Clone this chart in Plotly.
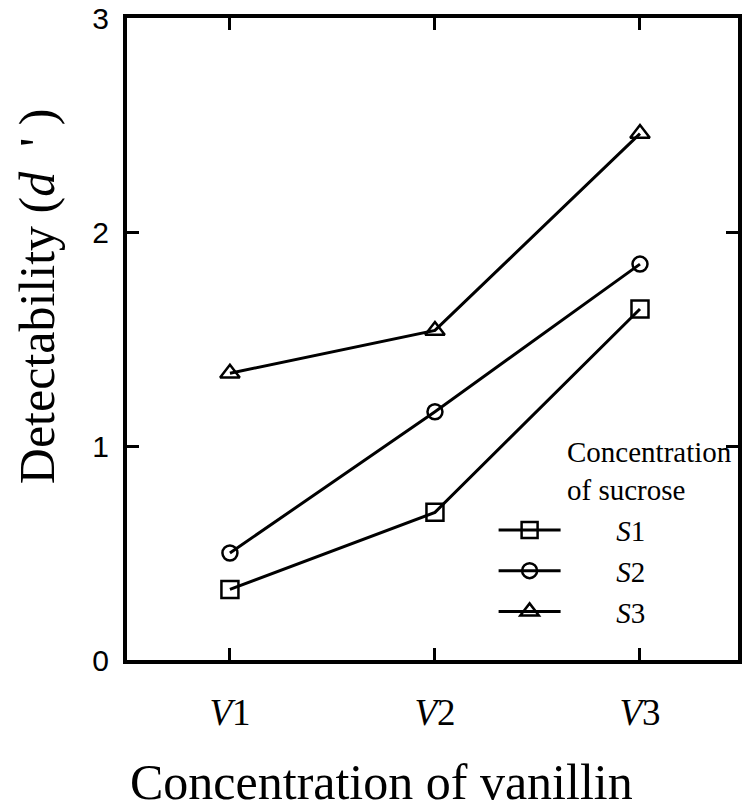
import plotly.graph_objects as go

categories = ["V1", "V2", "V3"]
x_pos = [1, 2, 3]
tick_labels = ["<i>V</i>1", "<i>V</i>2", "<i>V</i>3"]
pad = "&nbsp;" * 7
series_names = [pad + "<i>S</i>1", pad + "<i>S</i>2", pad + "<i>S</i>3"]
s1 = [0.33, 0.69, 1.64]
s2 = [0.50, 1.16, 1.85]
s3 = [1.34, 1.54, 2.46]
symbols = ["square-open", "circle-open", "triangle-up-open"]
sizes = [17, 15, 17]

fig = go.Figure()
for name, vals, sym, sz in zip(series_names, [s1, s2, s3], symbols, sizes):
    fig.add_trace(go.Scatter(
        x=x_pos, y=vals, name=name, mode="lines+markers",
        line=dict(color="black", width=3),
        marker=dict(symbol=sym, size=sz, color="black", line=dict(width=2.5, color="black")),
    ))

fig.update_layout(
    width=754, height=809,
    margin=dict(l=127, r=16, t=18, b=149),
    paper_bgcolor="white", plot_bgcolor="white",
    showlegend=True,
    legend=dict(
        x=0.6, y=0.242, xanchor="left", yanchor="top",
        font=dict(family="Liberation Serif", size=29, color="black"),
        itemwidth=62, bgcolor="rgba(0,0,0,0)", tracegroupgap=0,
    ),
    annotations=[
        dict(text="Concentration<br>of sucrose", x=0.717, y=0.352, xref="paper", yref="paper",
             xanchor="left", yanchor="top", showarrow=False, align="left",
             font=dict(family="Liberation Serif", size=29, color="black")),
        dict(text="Concentration of vanillin", x=0.416, y=-0.19, xref="paper", yref="paper",
             xanchor="center", yanchor="middle", showarrow=False,
             font=dict(family="Liberation Serif", size=50, color="black")),
        dict(text="Detectability (<i>d</i>&nbsp;&nbsp;'&nbsp;)", x=-0.148, y=0.566,
             xref="paper", yref="paper",
             xanchor="center", yanchor="middle", showarrow=False, textangle=-90,
             font=dict(family="Liberation Serif", size=50, color="black")),
    ],
)
fig.update_xaxes(
    range=[0.498, 3.478], tickvals=x_pos, ticktext=tick_labels,
    ticks="inside", ticklen=12, tickwidth=3, tickcolor="black",
    showline=True, linewidth=4, linecolor="black", mirror="ticks",
    showgrid=False, zeroline=False, automargin=False, ticklabelstandoff=17,
    ticklabeloverflow="allow",
    tickfont=dict(family="Liberation Serif", size=37, color="black"),
)
fig.update_yaxes(
    range=[0, 3], tickvals=[0, 1, 2, 3],
    ticks="inside", ticklen=12, tickwidth=3, tickcolor="black",
    showline=True, linewidth=4, linecolor="black", mirror="ticks",
    showgrid=False, zeroline=False, automargin=False, ticklabelstandoff=8,
    ticklabeloverflow="allow",
    tickfont=dict(family="Liberation Sans", size=30, color="black"),
)
fig.write_html("out.html", config={"displayModeBar": False},
               post_script="document.body.style.margin='0';")
